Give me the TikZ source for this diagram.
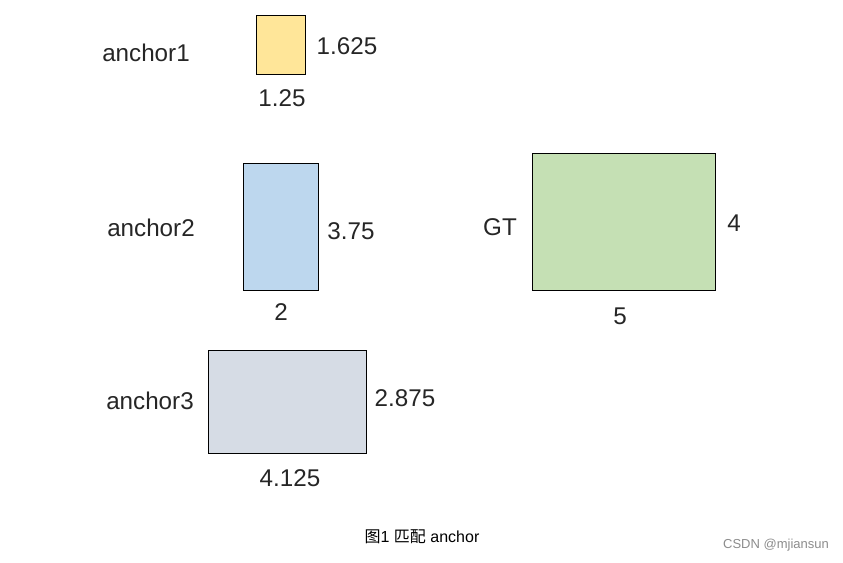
\documentclass[tikz,border=0pt]{standalone}
\usepackage{fontspec}
\setmainfont{Liberation Sans}
\newfontfamily\cjk{Noto Sans CJK SC}
\definecolor{txt}{HTML}{262626}
\definecolor{cyel}{HTML}{FFE699}
\definecolor{cblu}{HTML}{BDD7EE}
\definecolor{cgry}{HTML}{D6DCE5}
\definecolor{cgrn}{HTML}{C5E0B4}
\begin{document}
\begin{tikzpicture}[x=1pt,y=-1pt,
  box/.style={draw=black,line width=0.9pt,inner sep=0pt,outer sep=0pt},
  lbl/.style={inner sep=0pt,text=txt,font=\fontsize{24.2}{27}\selectfont},
  captext/.style={inner sep=0pt,text=black,font=\fontsize{16}{18}\selectfont},
  wm/.style={inner sep=0pt,text=black!45,font=\fontsize{13}{15}\selectfont}]
\useasboundingbox (0,0) rectangle (843,562);
% boxes
\node[box,fill=cyel,minimum width=49,minimum height=59] (a1) at (280.5,44.5) {};
\node[box,fill=cblu,minimum width=75,minimum height=127] (a2) at (280.5,226.5) {};
\node[box,fill=cgry,minimum width=158,minimum height=103] (a3) at (287,401.5) {};
\node[box,fill=cgrn,minimum width=183,minimum height=137] (gt) at (623.5,221.5) {};
% labels
\node[lbl] (n1) at (146,53) {anchor1};
\node[lbl] (h1) at (347,46) {1.625};
\node[lbl] (w1) at (282,98) {1.25};
\node[lbl] (n2) at (151,228) {anchor2};
\node[lbl] (h2) at (351,231) {3.75};
\node[lbl] (w2) at (281,312) {2};
\node[lbl] (n3) at (150,401) {anchor3};
\node[lbl] (h3) at (405,398) {2.875};
\node[lbl] (w3) at (290,478) {4.125};
\node[lbl] (ng) at (500,227) {GT};
\node[lbl] (hg) at (734,223) {4};
\node[lbl] (wg) at (620,316) {5};
% caption and watermark
\node[captext] (caption) at (422,537) {{\cjk 图}1 {\cjk 匹配} anchor};
\node[wm] (mark) at (776,545) {CSDN @mjiansun};
\end{tikzpicture}
\end{document}
